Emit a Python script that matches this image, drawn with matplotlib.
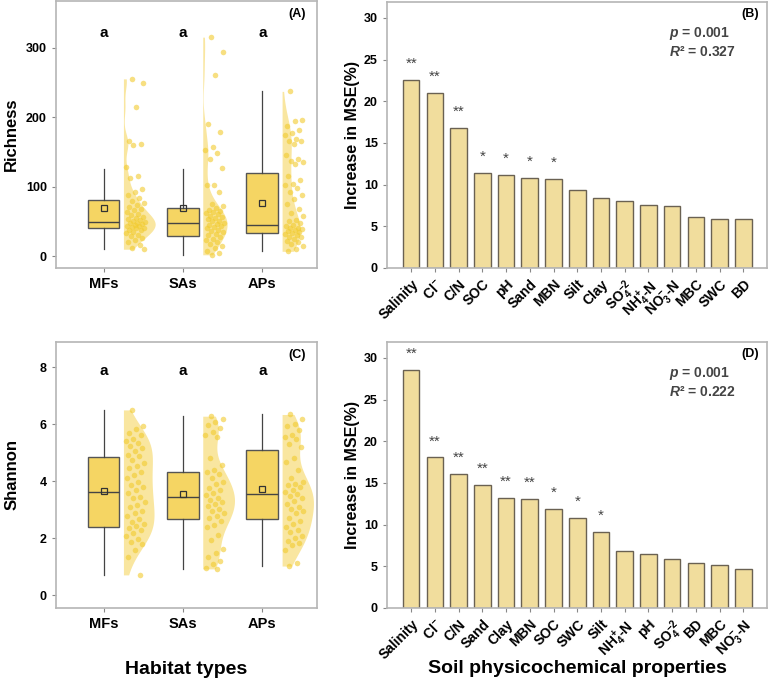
import matplotlib
matplotlib.use("Agg")
import matplotlib.pyplot as plt
import numpy as np

plt.rcParams['font.family'] = ['Liberation Sans', 'DejaVu Sans']
plt.rcParams['mathtext.fontset'] = 'custom'
plt.rcParams['mathtext.rm'] = 'Liberation Sans:bold'
plt.rcParams['mathtext.it'] = 'Liberation Sans:italic:bold'
plt.rcParams['mathtext.bf'] = 'Liberation Sans:bold'
plt.rcParams['mathtext.default'] = 'rm'

# ---------------- data ----------------
habitats = ['MFs', 'SAs', 'APs']
letters = ['a', 'a', 'a']

# richness: box stats (q1, median, q3, whisker low, whisker high, mean)
rich_stats = [
    (41, 49.5, 81, 10.5, 126, 70),
    (29, 47, 69.5, 2, 126, 69.5),
    (33.5, 45.5, 119, 7, 237, 76.5),
]
rich_mfs = [255, 249, 214, 165, 162, 160, 128, 115, 112, 96, 92, 88, 84, 80, 77,
            74, 71, 68, 66, 63, 61, 59, 57, 55, 54, 52, 50, 49, 48, 47, 46, 45,
            44, 43, 42, 41, 40, 38, 37, 35, 33, 31, 29, 26, 23, 20, 16, 12, 10]
rich_sas = [315, 294, 260, 190, 178, 157, 152, 148, 140, 127, 103, 103, 93, 75,
            72, 70, 67, 65, 64, 62, 60, 58, 56, 55, 53, 51, 50, 48, 46, 45, 44,
            42, 40, 38, 36, 35, 32, 30, 28, 25, 23, 20, 17, 15, 12, 8, 5, 2]
rich_aps = [237, 196, 195, 187, 182, 177, 174, 168, 165, 165, 162, 146, 140, 137,
            136, 132, 115, 110, 104, 103, 98, 92, 88, 82, 75, 68, 62, 58, 52, 50,
            47, 45, 43, 41, 40, 39, 37, 36, 35, 33, 32, 30, 28, 27, 25, 22, 20,
            17, 14, 11, 7]

shan_stats = [
    (2.39, 3.63, 4.85, 0.72, 6.5, 3.67),
    (2.67, 3.46, 4.33, 0.93, 6.27, 3.56),
    (2.67, 3.54, 5.1, 1.02, 6.34, 3.73),
]
shan_mfs = [6.5, 5.92, 5.84, 5.7, 5.62, 5.48, 5.41, 5.33, 5.22, 5.16, 5.05, 4.93,
            4.88, 4.76, 4.64, 4.55, 4.47, 4.31, 4.22, 4.12, 3.98, 3.87, 3.81,
            3.7, 3.58, 3.46, 3.41, 3.27, 3.18, 3.1, 2.97, 2.88, 2.77, 2.69, 2.58,
            2.51, 2.43, 2.35, 2.28, 2.18, 2.07, 1.98, 1.87, 1.8, 1.6, 1.33, 0.72]
shan_sas = [6.28, 6.19, 6.08, 5.97, 5.88, 5.72, 5.63, 5.55, 4.8, 4.58, 4.41, 4.32,
            4.24, 4.1, 3.98, 3.9, 3.78, 3.69, 3.6, 3.51, 3.42, 3.36, 3.29, 3.21,
            3.12, 3.03, 2.96, 2.88, 2.8, 2.7, 2.6, 2.46, 2.41, 2.12, 1.95, 1.62,
            1.49, 1.36, 1.22, 1.1, 0.95, 0.93]
shan_aps = [6.34, 6.18, 6.02, 5.95, 5.8, 5.62, 5.56, 5.49, 5.31, 5.2, 4.8, 4.68,
            4.38, 4.12, 3.96, 3.91, 3.86, 3.8, 3.71, 3.62, 3.56, 3.49, 3.41,
            3.32, 3.22, 3.11, 3.02, 2.96, 2.88, 2.72, 2.61, 2.52, 2.41, 2.3, 2.21,
            2.1, 2.01, 1.9, 1.82, 1.75, 1.6, 1.15, 1.03]

vars_b = ['Salinity', 'Cl$^{-}$', 'C/N', 'SOC', 'pH', 'Sand', 'MBN', 'Silt', 'Clay',
          'SO$_4^{-2}$', 'NH$_4^{+}$-N', 'NO$_3^{-}$-N', 'MBC', 'SWC', 'BD']
mse_b = [22.5, 21.0, 16.75, 11.4, 11.1, 10.75, 10.65, 9.4, 8.35, 8.0, 7.6, 7.4,
         6.1, 5.85, 5.85]
sig_b = ['**', '**', '**', '*', '*', '*', '*', '', '', '', '', '', '', '', '']

vars_d = ['Salinity', 'Cl$^{-}$', 'C/N', 'Sand', 'Clay', 'MBN', 'SOC', 'SWC', 'Silt',
          'NH$_4^{+}$-N', 'pH', 'SO$_4^{-2}$', 'BD', 'MBC', 'NO$_3^{-}$-N']
mse_d = [28.6, 18.05, 16.05, 14.7, 13.15, 13.1, 11.9, 10.85, 9.1, 6.8, 6.45, 5.9,
         5.35, 5.1, 4.65]
sig_d = ['**', '**', '**', '**', '**', '**', '*', '*', '*', '', '', '', '', '', '']

stat_b = ('0.001', '0.327')
stat_d = ('0.001', '0.222')

# ---------------- style ----------------
BOX_C = '#F5D563'
VIO_C = '#F7DE80'
PT_C = '#F2CB2E'
BAR_C = '#F1DD9D'
FRAME_C = '#B5B5B5'

W, H = 768, 680
fig = plt.figure(figsize=(W / 100, H / 100), dpi=100)


def px_axes(x0, y0, x1, y1):
    return fig.add_axes([x0 / W, 1 - y1 / H, (x1 - x0) / W, (y1 - y0) / H])


def frame(ax):
    for s in ax.spines.values():
        s.set_color(FRAME_C)
        s.set_linewidth(1.2)
    ax.tick_params(colors='#888888', length=3, width=0.8, labelcolor='black')


def kde(vals, grid):
    v = np.asarray(vals, float)
    n = len(v)
    iqr = np.subtract(*np.percentile(v, [75, 25]))
    bw = 0.9 * min(v.std(ddof=1), iqr / 1.34) * n ** -0.2
    z = (grid[:, None] - v[None, :]) / bw
    return np.exp(-0.5 * z ** 2).sum(1) / (n * bw * np.sqrt(2 * np.pi))


def raincloud(ax, groups, stats, ylim, yticks, letter_y, tag, ylabel):
    pos = np.arange(1, len(groups) + 1)
    dens = []
    for g in groups:
        yy = np.linspace(min(g), max(g), 300)
        dens.append((yy, kde(g, yy) * len(g)))
    scale = 0.4 / max(d.max() for _, d in dens)
    for p, g, (yy, d) in zip(pos, groups, dens):
        ax.fill_betweenx(yy, p + 0.25, p + 0.25 + d * scale, color=VIO_C,
                         alpha=0.75, lw=0, zorder=1)
        u = (np.arange(len(g)) * 0.618034 + 0.3) % 1
        ax.scatter(p + 0.28 + 0.24 * u, g, s=16, color=PT_C, alpha=0.6,
                   lw=0, zorder=2)
    bx = [dict(q1=s[0], med=s[1], q3=s[2], whislo=s[3], whishi=s[4],
               mean=s[5], fliers=[]) for s in stats]
    ax.bxp(bx, positions=pos, widths=0.4, patch_artist=True, showcaps=False,
           showmeans=True, showfliers=False,
           boxprops=dict(facecolor=BOX_C, edgecolor='#555555', lw=1),
           medianprops=dict(color='#444444', lw=1),
           whiskerprops=dict(color='#444444', lw=0.9),
           meanprops=dict(marker='s', mfc='none', mec='#333333', ms=4.5, mew=0.9),
           zorder=3)
    for p, l in zip(pos, letters):
        ax.text(p, letter_y, l, ha='center', va='center', fontsize=11,
                fontweight='bold')
    ax.text(0.958, 0.951, tag, transform=ax.transAxes, ha='right', va='center',
            fontsize=9, fontweight='bold')
    ax.set_xlim(0.4, 3.69)
    ax.set_ylim(*ylim)
    ax.set_yticks(yticks)
    ax.set_xticks(pos)
    ax.set_xticklabels(habitats, fontsize=10.5, fontweight='bold')
    for t in ax.get_yticklabels():
        t.set_fontweight('bold')
        t.set_fontsize(9)
    ax.set_ylabel(ylabel, fontsize=12, fontweight='bold', va='center')
    ax.yaxis.set_label_coords(-0.17, 0.5)
    frame(ax)


def barpanel(ax, names, vals, sigs, stat, tag):
    x = np.arange(len(names))
    ax.bar(x, vals, width=0.7, color=BAR_C, edgecolor='#6a6152', lw=1, zorder=2)
    for xi, v, s in zip(x, vals, sigs):
        if s:
            ax.text(xi, v + 1.1, s, ha='center', va='bottom', fontsize=11,
                    color='#444444')
    ax.set_xlim(-1.02, 15.0)
    ax.set_ylim(0, 31.9)
    ax.set_yticks([0, 5, 10, 15, 20, 25, 30])
    ax.set_xticks(x)
    ax.set_xticklabels(names, rotation=45, ha='right', va='top',
                       rotation_mode='anchor', fontsize=10, fontweight='bold')
    for t in ax.get_yticklabels():
        t.set_fontweight('bold')
        t.set_fontsize(9)
    ax.text(0.742, 0.883, r'$\mathit{p}$ = ' + stat[0], transform=ax.transAxes,
            ha='left', va='center', fontsize=10, fontweight='bold', color='#444444')
    ax.text(0.742, 0.812, r'$\mathit{R}$² = ' + stat[1], transform=ax.transAxes,
            ha='left', va='center', fontsize=10, fontweight='bold', color='#444444')
    ax.text(0.98, 0.955, tag, transform=ax.transAxes, ha='right', va='center',
            fontsize=9, fontweight='bold')
    ax.set_ylabel('Increase in MSE(%)', fontsize=11.5, fontweight='bold',
                  va='center')
    ax.yaxis.set_label_coords(-0.092, 0.5)
    frame(ax)


axA = px_axes(56, 1, 317, 268)
axB = px_axes(387, 2, 767, 268)
axC = px_axes(56, 342, 317, 608)
axD = px_axes(387, 342, 767, 608)

raincloud(axA, [rich_mfs, rich_sas, rich_aps], rich_stats, (-17, 367),
          [0, 100, 200, 300], 321, '(A)', 'Richness')
raincloud(axC, [shan_mfs, shan_sas, shan_aps], shan_stats, (-0.44, 8.88),
          [0, 2, 4, 6, 8], 7.87, '(C)', 'Shannon')
axC.set_xlabel('Habitat types', fontsize=14, fontweight='bold', va='center')
axC.xaxis.set_label_coords(0.5, -0.231)

barpanel(axB, vars_b, mse_b, sig_b, stat_b, '(B)')
barpanel(axD, vars_d, mse_d, sig_d, stat_d, '(D)')
axD.set_xlabel('Soil physicochemical properties', fontsize=14,
               fontweight='bold', va='center')
axD.xaxis.set_label_coords(0.5, -0.226)

fig.savefig('out.png', dpi=100)
